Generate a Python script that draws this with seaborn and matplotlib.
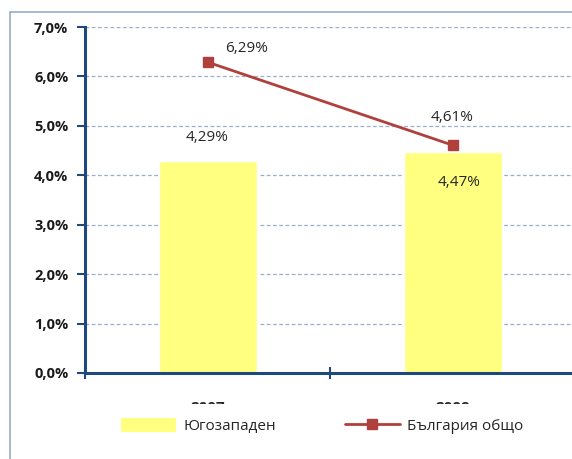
import matplotlib
matplotlib.use("Agg")
import matplotlib.pyplot as plt
from matplotlib.lines import Line2D
from matplotlib.patches import Patch, Rectangle
import seaborn as sns
import pandas as pd

years = ["2007", "2008"]
region_values = [4.29, 4.47]
bulgaria_values = [6.29, 4.61]
region_name = "Югозападен"
bulgaria_name = "България общо"

sns.set_theme(style="white")
plt.rcParams["font.family"] = ["Open Sans", "DejaVu Sans"]

df = pd.DataFrame({"year": years, "region": region_values, "bulgaria": bulgaria_values})

W, H = 572, 459
fig = plt.figure(figsize=(W / 100, H / 100), dpi=100)
ax = fig.add_axes([85 / W, 86 / H, 490 / W, 346 / H])

navy = "#1F497D"
red = "#B0403C"
yellow = "#FFFF80"

sns.barplot(data=df, x="year", y="region", color=yellow, width=0.4,
            saturation=1, ax=ax, zorder=2)
ax.plot(range(len(years)), df["bulgaria"], color=red, lw=2, marker="s",
        markersize=7, zorder=4)

ax.set_ylim(0, 7)
ax.set_xlim(-0.5, 1.5)
ax.set_yticks(range(0, 8))
ax.set_yticklabels([f"{v},0%" for v in range(0, 8)], fontsize=10.5,
                   fontweight="bold", color="#1a1a1a")
ax.yaxis.grid(True, linestyle=(0, (3, 2)), color="#9AAECB", lw=0.9)
ax.set_axisbelow(True)
ax.set_xlabel("")
ax.set_ylabel("")
ax.set_xticks([-0.5, 0.5, 1.5], minor=False)
ax.set_xticklabels(["", "", ""])
ax.set_xticks([0, 1], minor=True)
ax.set_xticklabels(years, minor=True, fontsize=11, fontweight="bold")
ax.tick_params(axis="x", which="minor", bottom=True, length=0, pad=20.5)
ax.tick_params(axis="x", which="major", bottom=True, direction="inout",
               length=9, width=1.5, color=navy)
ax.tick_params(axis="y", direction="out", length=6, width=1.5, color=navy,
               left=True, pad=6)

for side in ["top", "right"]:
    ax.spines[side].set_visible(False)
for side in ["left", "bottom"]:
    ax.spines[side].set_color(navy)
    ax.spines[side].set_linewidth(2.2)

# value labels
ax.annotate(f"{region_values[0]:.2f}%".replace(".", ","), (0, region_values[0]),
            xytext=(0, 17), textcoords="offset points", ha="center",
            va="center", fontsize=11)
ax.annotate(f"{region_values[1]:.2f}%".replace(".", ","), (1, region_values[1]),
            xytext=(5, -22), textcoords="offset points", ha="center",
            va="center", fontsize=11)
ax.annotate(f"{bulgaria_values[0]:.2f}%".replace(".", ","), (0, bulgaria_values[0]),
            xytext=(28, 10), textcoords="offset points", ha="center",
            va="center", fontsize=11)
ax.annotate(f"{bulgaria_values[1]:.2f}%".replace(".", ","), (1, bulgaria_values[1]),
            xytext=(0, 20), textcoords="offset points", ha="center",
            va="center", fontsize=11)

# white band hiding the lower part of the year labels
fig.patches.append(Rectangle((0, 0), 1, (H - 404) / H, transform=fig.transFigure,
                             facecolor="white", edgecolor="none", zorder=5))
# chart frame
fig.add_artist(Line2D([10 / W, 10 / W], [0, (H - 12) / H], color="#95AECB",
                      lw=1.2, transform=fig.transFigure, zorder=6))
fig.add_artist(Line2D([10 / W, 1], [(H - 12) / H, (H - 12) / H], color="#95AECB",
                      lw=1.2, transform=fig.transFigure, zorder=6))

handles = [Patch(facecolor=yellow, edgecolor="none"),
           Line2D([], [], color=red, lw=2, marker="s", markersize=7)]
leg = fig.legend(handles, [region_name, bulgaria_name], loc="center",
                 bbox_to_anchor=(322 / W, (H - 426) / H), ncol=2, frameon=False,
                 fontsize=11, handlelength=3.6, handleheight=1.0,
                 columnspacing=4.5, handletextpad=0.5)
leg.set_zorder(7)

fig.savefig("out.png", dpi=100)
